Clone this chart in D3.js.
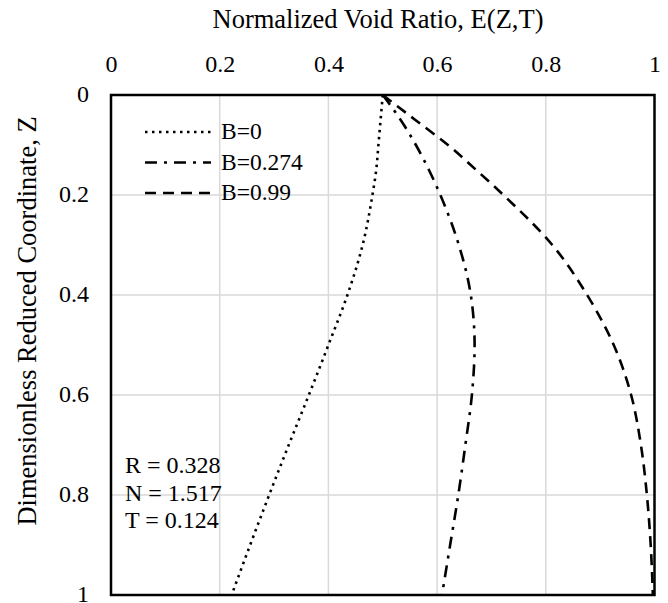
<!DOCTYPE html>
<html>
<head>
<meta charset="utf-8">
<script src="https://cdn.jsdelivr.net/npm/d3@7"></script>
<style>
  body { margin: 0; background: #fff; }
  svg text { font-family: "Liberation Serif", "Times New Roman", serif; fill: #000; }
</style>
</head>
<body>
<svg id="chart" width="668" height="603"></svg>
<script>
// depth coordinate Z (shared by every series)
var zValues = [0, 0.025, 0.05, 0.1, 0.15, 0.2, 0.3, 0.4, 0.5, 0.6, 0.7, 0.8, 0.9, 1.0];
// normalized void ratio E(Z,T) for each B
var eB0    = [0.500, 0.498, 0.496, 0.492, 0.488, 0.481, 0.463, 0.435, 0.400, 0.364, 0.327, 0.291, 0.256, 0.222];
var eB0274 = [0.500, 0.517, 0.533, 0.561, 0.585, 0.606, 0.640, 0.662, 0.669, 0.664, 0.652, 0.639, 0.624, 0.609];
var eB099  = [0.500, 0.530, 0.560, 0.620, 0.672, 0.722, 0.812, 0.876, 0.925, 0.957, 0.975, 0.986, 0.993, 0.997];
var seriesNames = ['B=0', 'B=0.274', 'B=0.99'];
var xTicks = [0, 0.2, 0.4, 0.6, 0.8, 1];
var yTicks = [0, 0.2, 0.4, 0.6, 0.8, 1];
var notes = ['R = 0.328', 'N = 1.517', 'T = 0.124'];

(function() {
	var dashes = ['2.5,4.5', '12,7,3,7', '11,7'];

	var svg = d3.select('#chart'),
		pL = 111, pR = 654.5, pT = 95, pB = 595;

	var x = d3.scaleLinear().domain([0, 1]).range([pL, pR]);
	var y = d3.scaleLinear().domain([0, 1]).range([pT, pB]);

	// grid
	svg.append('g').selectAll('line')
			.data(xTicks.slice(1, -1))
		.enter().append('line')
			.attr('x1', function(d) { return x(d); })
			.attr('x2', function(d) { return x(d); })
			.attr('y1', pT).attr('y2', pB)
			.style('stroke', '#d9d9d9').style('stroke-width', 1.5);

	svg.append('g').selectAll('line')
			.data(yTicks.slice(1, -1))
		.enter().append('line')
			.attr('y1', function(d) { return y(d); })
			.attr('y2', function(d) { return y(d); })
			.attr('x1', pL).attr('x2', pR)
			.style('stroke', '#d9d9d9').style('stroke-width', 1.5);

	// axes (labels only)
	var xAxis = svg.append('g')
		.attr('transform', 'translate(0,' + (pT - 23) + ')')
		.call(d3.axisTop(x).tickValues(xTicks).tickSize(0).tickPadding(0).tickFormat(d3.format('')));
	var yAxis = svg.append('g')
		.attr('transform', 'translate(' + (pL - 22) + ',0)')
		.call(d3.axisLeft(y).tickValues(yTicks).tickSize(0).tickPadding(0).tickFormat(d3.format('')));
	xAxis.select('.domain').remove();
	yAxis.select('.domain').remove();
	xAxis.selectAll('text').style('font-size', '24px').attr('dy', 0);
	yAxis.selectAll('text').style('font-size', '24px').attr('dy', '0.27em');

	// curves
	var line = d3.line()
		.x(function(d) { return x(d[1]); })
		.y(function(d) { return y(d[0]); })
		.curve(d3.curveMonotoneY);

	[eB0, eB0274, eB099].forEach(function(vals, i) {
		svg.append('path')
			.datum(d3.zip(zValues, vals))
			.attr('d', line)
			.style('fill', 'none')
			.style('stroke', '#000')
			.style('stroke-width', 2.6)
			.style('stroke-dasharray', dashes[i]);
	});

	// plot border
	svg.append('rect')
		.attr('x', pL).attr('y', pT)
		.attr('width', pR - pL).attr('height', pB - pT)
		.style('fill', 'none').style('stroke', '#000').style('stroke-width', 2.5);

	// legend
	var legend = svg.append('g').selectAll('g')
			.data(seriesNames)
		.enter().append('g')
			.attr('transform', function(d, i) { return 'translate(145,' + (139 + i * 30.5) + ')'; });
	legend.append('line')
		.attr('x1', 0).attr('x2', 66).attr('y1', -7).attr('y2', -7)
		.style('stroke', '#000').style('stroke-width', 2.6)
		.style('stroke-dasharray', function(d, i) { return dashes[i]; });
	legend.append('text')
		.attr('x', 76).attr('y', 0)
		.style('font-size', '23.5px')
		.text(function(d) { return d; });

	// parameter notes
	svg.append('g').selectAll('text')
			.data(notes)
		.enter().append('text')
			.attr('x', 125)
			.attr('y', function(d, i) { return 473 + i * 27.5; })
			.style('font-size', '24px')
			.text(function(d) { return d; });

	// titles
	svg.append('text')
		.attr('x', 378).attr('y', 28)
		.attr('text-anchor', 'middle')
		.style('font-size', '26.5px')
		.text('Normalized Void Ratio, E(Z,T)');
	svg.append('text')
		.attr('transform', 'translate(36,321) rotate(-90)')
		.attr('text-anchor', 'middle')
		.style('font-size', '26.5px')
		.text('Dimensionless Reduced Coordinate, Z');
})();
</script>
</body>
</html>
